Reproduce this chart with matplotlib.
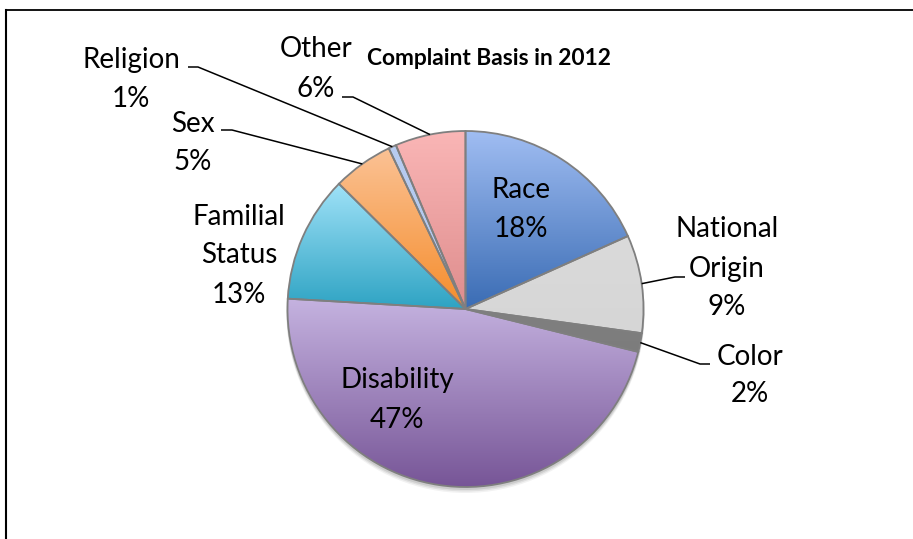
import numpy as np
import matplotlib
matplotlib.use('Agg')
import matplotlib.pyplot as plt
from matplotlib.lines import Line2D
from matplotlib.patches import Circle
from matplotlib.colors import to_rgb

# ---------------- data ----------------
categories = ['Race', 'National Origin', 'Color', 'Disability',
              'Familial Status', 'Sex', 'Religion', 'Other']
shares = [18.3, 8.9, 1.7, 47.1, 11.5, 5.5, 0.7, 6.4]
pct_labels = ['18%', '9%', '2%', '47%', '13%', '5%', '1%', '6%']
name_lines = [['Race'], ['National', 'Origin'], ['Color'], ['Disability'],
              ['Familial', 'Status'], ['Sex'], ['Religion'], ['Other']]
title = 'Complaint Basis in 2012'

# ---------------- style ----------------
top_colors = ['#a0bdf2', '#dadada', '#808080', '#c5b3e0',
              '#a0e2f8', '#fbc295', '#b8cdf1', '#fab6b6']
bottom_colors = ['#3a6cb4', '#d6d6d6', '#7c7c7c', '#775597',
                 '#2ea3c3', '#f58d2c', '#b0c6ee', '#de8d8d']

W, H = 913, 539


def Y(y):
    return H - y


# text layout: (center x, [baselines of each line]) in image pixels
label_layout = [
    (521, [198, 237]),
    (727, [237, 277, 315]),
    (750, [365, 402]),
    (397, [388, 428]),
    (239, [225, 263, 303]),
    (193, [132, 170]),
    (131, [68, 107]),
    (316, [57, 97]),
]
# leader lines: (elbow point, end point) in image pixels, None for inside labels
leaders = [
    None,
    ((675, 277), (685, 277)),
    ((700, 364), (710, 364)),
    None,
    None,
    ((232, 130), (221, 130)),
    ((198, 67), (188, 67)),
    ((353, 97), (342, 97)),
]

fig = plt.figure(figsize=(W / 100, H / 100), dpi=100)
ax = fig.add_axes([0, 0, 1, 1])
ax.set_axis_off()

cx, cy, R = 465.5, Y(309), 178

# soft shadow
for k, a in [(5, 0.05), (3.5, 0.07), (2, 0.09)]:
    ax.add_patch(Circle((cx, cy - k), R + 1, facecolor='#000000', alpha=a,
                        edgecolor='none', zorder=1))

wedges, _ = ax.pie(shares, startangle=90, counterclock=False,
                   center=(cx, cy), radius=R,
                   wedgeprops=dict(edgecolor='#7f7f7f', linewidth=1.3))

for w, c0, c1 in zip(wedges, top_colors, bottom_colors):
    w.set_facecolor('none')
    w.set_zorder(4)
    ext = w.get_path().get_extents()
    a0, a1 = np.array(to_rgb(c0)), np.array(to_rgb(c1))
    t = np.linspace(0, 1, 256)[:, None]
    grad = (a0[None, :] * (1 - t) + a1[None, :] * t)[:, None, :]
    im = ax.imshow(grad, extent=(ext.x0, ext.x1, ext.y0, ext.y1),
                   origin='upper', aspect='auto', zorder=3,
                   interpolation='bilinear')
    im.set_clip_path(w)

fs = 20
for i, w in enumerate(wedges):
    xc, bases = label_layout[i]
    lines = name_lines[i] + [pct_labels[i]]
    for txt, b in zip(lines, bases):
        ax.text(xc, Y(b), txt, ha='center', va='baseline', fontsize=fs,
                family='Lato', color='black', zorder=6)
    if leaders[i] is not None:
        mid = np.deg2rad((w.theta1 + w.theta2) / 2)
        ax0 = cx + R * np.cos(mid)
        ay0 = cy + R * np.sin(mid)
        (ex, ey), (fx, fy) = leaders[i]
        ax.plot([ax0, ex, fx], [ay0, Y(ey), Y(fy)], color='black', lw=1.1,
                zorder=5, solid_capstyle='butt')

ax.text(489, Y(65), title, ha='center', va='baseline', fontsize=16.4,
        fontweight='bold', family='Lato', color='black', zorder=6)

ax.set_xlim(0, W)
ax.set_ylim(0, H)
ax.set_aspect('equal')

# chart area border (extends beyond the picture on right and bottom)
fig.add_artist(Line2D([6 / W, 1], [1 - 9.8 / H, 1 - 9.8 / H],
                      transform=fig.transFigure, color='black', lw=1.3))
fig.add_artist(Line2D([6 / W, 6 / W], [0, 1 - 9.8 / H],
                      transform=fig.transFigure, color='black', lw=1.5))

fig.savefig('out.png', dpi=100)
